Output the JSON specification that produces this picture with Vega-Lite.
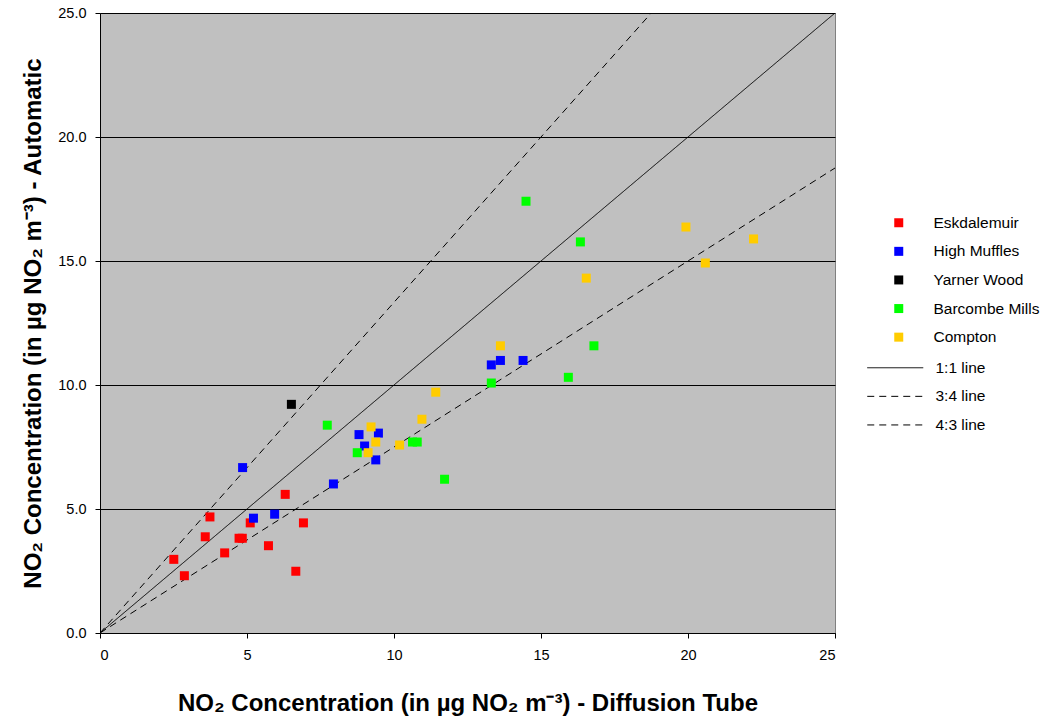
{
  "$schema": "https://vega.github.io/schema/vega-lite/v6.json",
  "width": 735,
  "height": 620,
  "autosize": {"type": "none"},
  "padding": {"left": 100, "top": 13, "right": 207, "bottom": 86},
  "background": "white",
  "config": {
    "view": {"fill": "#C0C0C0", "stroke": "#808080", "strokeWidth": 1},
    "font": "Liberation Sans",
    "axis": {
      "labelFont": "Liberation Sans", "labelFontSize": 14.5, "labelColor": "black",
      "titleFont": "Liberation Sans", "titleFontSize": 24, "titleFontWeight": "bold", "titleColor": "black",
      "domainColor": "black", "tickColor": "black", "tickSize": 5
    },
    "legend": {
      "labelFont": "Liberation Sans", "labelFontSize": 15.5, "labelColor": "black",
      "padding": 0, "rowPadding": 11.6
    }
  },
  "datasets": {
    "points": [
      {"site": "Eskdalemuir", "tube": 3.74, "auto": 4.68},
      {"site": "Eskdalemuir", "tube": 3.58, "auto": 3.88},
      {"site": "Eskdalemuir", "tube": 2.51, "auto": 2.97},
      {"site": "Eskdalemuir", "tube": 2.87, "auto": 2.31},
      {"site": "Eskdalemuir", "tube": 4.24, "auto": 3.23},
      {"site": "Eskdalemuir", "tube": 4.73, "auto": 3.82},
      {"site": "Eskdalemuir", "tube": 4.84, "auto": 3.82},
      {"site": "Eskdalemuir", "tube": 5.11, "auto": 4.44},
      {"site": "Eskdalemuir", "tube": 6.30, "auto": 5.59},
      {"site": "Eskdalemuir", "tube": 5.73, "auto": 3.52},
      {"site": "Eskdalemuir", "tube": 6.92, "auto": 4.44},
      {"site": "Eskdalemuir", "tube": 6.66, "auto": 2.49},
      {"site": "High Muffles", "tube": 4.85, "auto": 6.67},
      {"site": "High Muffles", "tube": 5.22, "auto": 4.63},
      {"site": "High Muffles", "tube": 5.94, "auto": 4.79},
      {"site": "High Muffles", "tube": 7.94, "auto": 6.01},
      {"site": "High Muffles", "tube": 8.81, "auto": 8.00},
      {"site": "High Muffles", "tube": 9.47, "auto": 8.06},
      {"site": "High Muffles", "tube": 9.00, "auto": 7.54},
      {"site": "High Muffles", "tube": 9.38, "auto": 6.98},
      {"site": "High Muffles", "tube": 13.31, "auto": 10.81},
      {"site": "High Muffles", "tube": 13.62, "auto": 10.99},
      {"site": "High Muffles", "tube": 14.39, "auto": 10.99},
      {"site": "Yarner Wood", "tube": 6.51, "auto": 9.22},
      {"site": "Barcombe Mills", "tube": 7.73, "auto": 8.38},
      {"site": "Barcombe Mills", "tube": 8.75, "auto": 7.27},
      {"site": "Barcombe Mills", "tube": 10.63, "auto": 7.70},
      {"site": "Barcombe Mills", "tube": 10.79, "auto": 7.70},
      {"site": "Barcombe Mills", "tube": 11.72, "auto": 6.20},
      {"site": "Barcombe Mills", "tube": 13.31, "auto": 10.08},
      {"site": "Barcombe Mills", "tube": 14.49, "auto": 17.41},
      {"site": "Barcombe Mills", "tube": 16.34, "auto": 15.77},
      {"site": "Barcombe Mills", "tube": 15.93, "auto": 10.31},
      {"site": "Barcombe Mills", "tube": 16.80, "auto": 11.58},
      {"site": "Compton", "tube": 9.22, "auto": 8.31},
      {"site": "Compton", "tube": 9.38, "auto": 7.70},
      {"site": "Compton", "tube": 9.12, "auto": 7.27},
      {"site": "Compton", "tube": 10.19, "auto": 7.58},
      {"site": "Compton", "tube": 10.95, "auto": 8.62},
      {"site": "Compton", "tube": 11.42, "auto": 9.71},
      {"site": "Compton", "tube": 13.62, "auto": 11.58},
      {"site": "Compton", "tube": 16.54, "auto": 14.31},
      {"site": "Compton", "tube": 19.93, "auto": 16.37},
      {"site": "Compton", "tube": 22.23, "auto": 15.89},
      {"site": "Compton", "tube": 20.59, "auto": 14.92}
    ],
    "lines": [
      {"line": "1:1 line", "tube": 0, "auto": 0},
      {"line": "1:1 line", "tube": 25, "auto": 25},
      {"line": "3:4 line", "tube": 0, "auto": 0},
      {"line": "3:4 line", "tube": 25, "auto": 18.75},
      {"line": "4:3 line", "tube": 0, "auto": 0},
      {"line": "4:3 line", "tube": 18.75, "auto": 25}
    ]
  },
  "layer": [
    {
      "data": {"name": "lines"},
      "mark": {"type": "line", "color": "black", "strokeWidth": 1, "clip": true},
      "encoding": {
        "x": {
          "field": "tube", "type": "quantitative",
          "scale": {"domain": [0, 25], "nice": false},
          "axis": {
            "values": [0, 5, 10, 15, 20, 25], "format": "d", "grid": false,
            "labelPadding": 10, "titlePadding": 30,
            "title": "NO₂ Concentration (in µg NO₂ m⁻³) - Diffusion Tube"
          }
        },
        "y": {
          "field": "auto", "type": "quantitative",
          "scale": {"domain": [0, 25], "nice": false},
          "axis": {
            "values": [0, 5, 10, 15, 20, 25], "format": ".1f",
            "grid": true, "gridColor": "black", "gridWidth": 1, "gridOpacity": 1,
            "labelPadding": 9, "titlePadding": 12,
            "title": "NO₂ Concentration (in µg NO₂ m⁻³) - Automatic"
          }
        },
        "strokeDash": {
          "field": "line", "type": "nominal",
          "scale": {"domain": ["1:1 line", "3:4 line", "4:3 line"], "range": [[1, 0], [7, 5], [7, 5]]},
          "legend": {
            "title": null, "orient": "none", "legendX": 787.5, "legendY": 347,
            "symbolType": "M-7,0H7", "symbolSize": 64, "symbolStrokeColor": "black",
            "symbolStrokeWidth": 1, "labelOffset": 32.5
          }
        }
      }
    },
    {
      "data": {"name": "points"},
      "mark": {"type": "square", "size": 81, "opacity": 1},
      "encoding": {
        "x": {"field": "tube", "type": "quantitative"},
        "y": {"field": "auto", "type": "quantitative"},
        "color": {
          "field": "site", "type": "nominal",
          "scale": {
            "domain": ["Eskdalemuir", "High Muffles", "Yarner Wood", "Barcombe Mills", "Compton"],
            "range": ["#FF0000", "#0000FF", "#000000", "#00FF00", "#FFCC00"]
          },
          "legend": {
            "title": null, "orient": "none", "legendX": 791, "legendY": 202,
            "symbolType": "square", "symbolSize": 81, "symbolOpacity": 1, "labelOffset": 27
          }
        }
      }
    }
  ]
}
